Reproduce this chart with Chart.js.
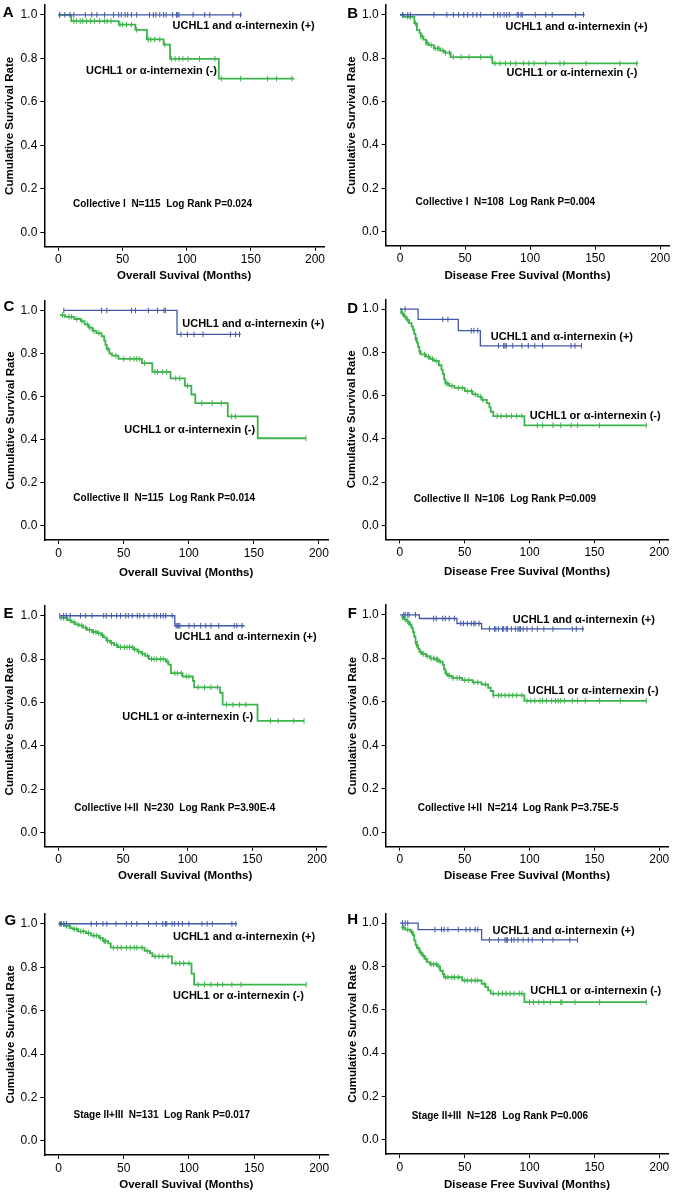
<!DOCTYPE html>
<html><head><meta charset="utf-8">
<script src="https://cdn.jsdelivr.net/npm/chart.js@4/dist/chart.umd.min.js"></script>
<style>
html,body{margin:0;padding:0;background:#fff}
body{width:675px;height:1195px;position:relative;overflow:hidden}
canvas{position:absolute}
.lt{position:absolute;font:bold 15px "Liberation Sans",Arial,sans-serif;line-height:15px;color:#000}
</style></head><body>
<script>
// ---------- shared labels ----------
const xTicks = [0, 50, 100, 150, 200];
const yTicks = [0, 0.2, 0.4, 0.6, 0.8, 1.0];
const groupLabels = ["UCHL1 and \u03b1-internexin (+)", "UCHL1 or \u03b1-internexin (-)"];
const panelLetters = ["A","B","C","D","E","F","G","H"];
const xTitles = ["Overall Suvival (Months)", "Disease Free Suvival (Months)"];
const yTitle = "Cumulative Survival Rate";
const notes = [
  "Collective I  N=115  Log Rank P=0.024",
  "Collective I  N=108  Log Rank P=0.004",
  "Collective II  N=115  Log Rank P=0.014",
  "Collective II  N=106  Log Rank P=0.009",
  "Collective I+II  N=230  Log Rank P=3.90E-4",
  "Collective I+II  N=214  Log Rank P=3.75E-5",
  "Stage II+III  N=131  Log Rank P=0.017",
  "Stage II+III  N=128  Log Rank P=0.006"
];

// ---------- data: [time, survival] steps, end of follow-up, censor times ----------
// Panel A
const A_pos_steps = [[0,1.0]];
const A_pos_end = 143;
const A_pos_cens = [1,5,9,12,21,26,30,36,43,47,49,52,54,57,61,71,74,76,79,82,84,89,92,93,94,105,114,118,136,142];
const A_neg_steps = [[0,1.0],[10,0.971],[47,0.955],[60,0.931],[69,0.887],[82,0.863],[87,0.798],[125,0.707]];
const A_neg_end = 184;
const A_neg_cens = [1,12,14,17,19,22,25,28,32,36,38,41,48,50,53,57,61,70,72,75,79,83,88,91,94,97,101,110,122,127,142,163,170,182];
// Panel B
const B_pos_steps = [[0,1.0]];
const B_pos_end = 142;
const B_pos_cens = [2,6,8,26,36,41,45,49,52,56,59,62,72,75,77,80,82,84,90,91,93,94,104,112,117,135,141];
const B_neg_steps = [[0,1.0],[3,0.99],[11,0.96],[13,0.93],[15,0.915],[16,0.90],[18,0.885],[20,0.87],[22,0.86],[26,0.845],[31,0.835],[34,0.825],[39,0.805],[71,0.776]];
const B_neg_end = 183;
const B_neg_cens = [2,6,8,12,16,17,20,21,24,27,29,30,33,35,38,41,47,53,62,70,73,77,81,85,89,95,99,103,112,123,126,143,169,182];
// Panel C
const C_pos_steps = [[4,1.0],[91,0.889]];
const C_pos_end = 140;
const C_pos_cens = [4,33,37,56,59,69,76,81,82,94,99,104,111,132,136,139];
const C_neg_steps = [[1,0.978],[5,0.97],[12,0.96],[17,0.95],[20,0.935],[23,0.92],[26,0.905],[29,0.895],[33,0.88],[35,0.86],[36,0.84],[37,0.82],[39,0.80],[41,0.79],[46,0.775],[64,0.755],[72,0.715],[86,0.685],[97,0.65],[102,0.61],[105,0.57],[130,0.508],[153,0.407]];
const C_neg_end = 190;
const C_neg_cens = [3,8,10,14,18,22,24,27,31,38,44,50,55,58,60,62,66,74,76,80,83,90,93,99,110,118,125,133,136,190];
// Panel D
const D_pos_steps = [[0,1.0],[14,0.952],[45,0.90],[62,0.83]];
const D_pos_end = 140;
const D_pos_cens = [4,33,37,55,57,60,76,80,81,82,87,94,99,104,110,132,135,140];
const D_neg_steps = [[0,1.0],[1,0.98],[3,0.965],[5,0.95],[7,0.935],[9,0.92],[10,0.905],[11,0.885],[12,0.865],[13,0.845],[14,0.825],[15,0.805],[16,0.79],[20,0.78],[23,0.77],[26,0.76],[30,0.74],[32,0.72],[33,0.70],[34,0.675],[35,0.655],[38,0.645],[42,0.635],[50,0.62],[56,0.605],[60,0.595],[63,0.58],[67,0.565],[69,0.545],[70,0.525],[72,0.505],[96,0.462]];
const D_neg_end = 190;
const D_neg_cens = [2,4,6,12,15,19,22,25,28,36,37,40,45,48,52,55,58,62,64,75,78,82,86,90,94,106,110,118,124,132,137,154,190];
// Panel E
const E_pos_steps = [[1,1.0],[90,0.954]];
const E_pos_end = 144;
const E_pos_cens = [1,4,6,9,17,21,26,35,37,41,45,48,52,54,57,61,63,66,70,74,76,79,81,83,88,91,92,93,94,101,105,110,114,118,124,136,138,142];
const E_neg_steps = [[1,0.99],[7,0.98],[10,0.97],[13,0.96],[16,0.955],[19,0.945],[22,0.935],[26,0.925],[30,0.92],[33,0.91],[35,0.9],[37,0.885],[40,0.875],[43,0.865],[46,0.855],[58,0.845],[61,0.835],[64,0.825],[67,0.815],[70,0.80],[83,0.79],[85,0.775],[87,0.735],[96,0.72],[104,0.70],[105,0.67],[125,0.645],[127,0.59],[154,0.515]];
const E_neg_end = 190;
const E_neg_cens = [2,4,6,9,12,15,18,21,24,27,29,31,34,38,41,45,48,51,53,55,57,59,62,65,69,72,74,76,79,81,84,90,92,95,99,101,108,113,118,123,130,135,140,145,164,170,182,190];
// Panel F
const F_pos_steps = [[0,1.0],[15,0.983],[44,0.96],[63,0.935]];
const F_pos_end = 142;
const F_pos_cens = [3,4,6,7,12,26,28,33,35,38,42,47,49,52,55,57,58,61,69,73,74,76,79,80,82,83,86,89,91,92,93,95,98,102,106,111,118,133,136,141];
const F_neg_steps = [[1,0.99],[3,0.98],[5,0.97],[7,0.955],[9,0.94],[10,0.92],[11,0.9],[12,0.875],[13,0.86],[14,0.845],[15,0.83],[17,0.82],[20,0.81],[23,0.80],[27,0.795],[30,0.785],[33,0.77],[34,0.75],[35,0.73],[37,0.72],[40,0.71],[48,0.70],[56,0.69],[63,0.68],[68,0.665],[70,0.65],[72,0.63],[96,0.605]];
const F_neg_end = 190;
const F_neg_cens = [2,4,6,8,12,13,16,18,21,24,26,28,29,31,36,38,41,44,46,50,53,57,60,66,72,76,78,81,84,87,90,94,98,101,104,108,110,113,117,120,122,124,127,133,137,143,154,170,190];
// Panel G
const G_pos_steps = [[0,1.0]];
const G_pos_end = 137;
const G_pos_cens = [1,2,4,6,25,29,34,37,44,52,56,60,69,75,80,82,83,87,89,92,95,100,110,114,118,133,136];
const G_neg_steps = [[0,1.0],[4,0.99],[9,0.98],[11,0.975],[15,0.965],[21,0.957],[25,0.945],[31,0.935],[34,0.92],[38,0.91],[40,0.89],[66,0.875],[70,0.865],[72,0.85],[87,0.818],[102,0.77],[104,0.72]];
const G_neg_end = 190;
const G_neg_cens = [2,6,8,12,14,17,19,23,27,29,32,35,36,42,45,48,52,55,58,60,64,68,74,77,80,84,90,93,96,100,107,112,117,122,126,133,140,190];
// Panel H
const H_pos_steps = [[0,1.0],[14,0.97],[63,0.922]];
const H_pos_end = 137;
const H_pos_cens = [2,4,6,27,32,34,37,45,51,54,58,60,69,76,81,82,83,86,88,91,95,99,102,110,118,131,137];
const H_neg_steps = [[1,0.98],[4,0.97],[8,0.96],[10,0.945],[11,0.92],[12,0.90],[13,0.885],[15,0.865],[17,0.85],[19,0.835],[21,0.82],[23,0.81],[29,0.80],[31,0.78],[33,0.765],[34,0.75],[48,0.735],[63,0.72],[66,0.705],[68,0.69],[70,0.675],[96,0.635]];
const H_neg_end = 190;
const H_neg_cens = [2,3,6,9,14,16,18,20,24,26,28,30,35,37,40,42,45,50,52,55,58,60,65,72,76,79,82,85,88,92,94,100,103,107,111,116,124,125,135,154,190];

// ---------- layout (pixel boxes of each panel, label anchors in data units) ----------
const panels = [
  {pos:[A_pos_steps,A_pos_end,A_pos_cens], neg:[A_neg_steps,A_neg_end,A_neg_cens], xt:0,
   box:{cx:0,cy:0,cw:337,ch:290,L:44.3,T:5,R:324,B:246.7}, ytp:2.6, xtp:7,
   lab:[[89,0.947],[21.5,0.741],[11.4,0.131]], letter:[2.8,4]},
  {pos:[B_pos_steps,B_pos_end,B_pos_cens], neg:[B_neg_steps,B_neg_end,B_neg_cens], xt:1,
   box:{cx:337,cy:0,cw:338,ch:290,L:385.7,T:5,R:669.3,B:245.7}, ytp:8.3, xtp:7,
   lab:[[81.1,0.944],[81.9,0.733],[12,0.134]], letter:[347.2,4.7]},
  {pos:[C_pos_steps,C_pos_end,C_pos_cens], neg:[C_neg_steps,C_neg_end,C_neg_cens], xt:0,
   box:{cx:0,cy:290,cw:337,ch:300,L:44.3,T:300.7,R:328,B:540}, ytp:3.6, xtp:10.5,
   lab:[[95,0.937],[50.5,0.447],[11.3,0.127]], letter:[3.5,298]},
  {pos:[D_pos_steps,D_pos_end,D_pos_cens], neg:[D_neg_steps,D_neg_end,D_neg_cens], xt:1,
   box:{cx:337,cy:290,cw:338,ch:300,L:385.7,T:299.3,R:668.3,B:539.3}, ytp:8.3, xtp:11,
   lab:[[70.1,0.872],[100.2,0.505],[10.6,0.12]], letter:[347.2,299.7]},
  {pos:[E_pos_steps,E_pos_end,E_pos_cens], neg:[E_neg_steps,E_neg_end,E_neg_cens], xt:0,
   box:{cx:0,cy:590,cw:337,ch:300,L:44.3,T:606,R:326,B:846.7}, ytp:2.6, xtp:7,
   lab:[[89.8,0.901],[49.4,0.534],[12.2,0.113]], letter:[3.5,605.3]},
  {pos:[F_pos_steps,F_pos_end,F_pos_cens], neg:[F_neg_steps,F_neg_end,F_neg_cens], xt:1,
   box:{cx:337,cy:590,cw:338,ch:300,L:385.7,T:605,R:668.3,B:846.7}, ytp:8.8, xtp:7.5,
   lab:[[87,0.977],[98.6,0.652],[13.7,0.111]], letter:[347.8,605.3]},
  {pos:[G_pos_steps,G_pos_end,G_pos_cens], neg:[G_neg_steps,G_neg_end,G_neg_cens], xt:0,
   box:{cx:0,cy:890,cw:337,ch:305,L:44.3,T:914,R:328.3,B:1155}, ytp:3.6, xtp:3,
   lab:[[87.8,0.94],[87.8,0.666],[11.4,0.12]], letter:[4.5,912]},
  {pos:[H_pos_steps,H_pos_end,H_pos_cens], neg:[H_neg_steps,H_neg_end,H_neg_cens], xt:1,
   box:{cx:337,cy:890,cw:338,ch:305,L:385.7,T:913.3,R:668.3,B:1154}, ytp:8.8, xtp:3,
   lab:[[71.4,0.965],[100.6,0.685],[9,0.108]], letter:[347.2,911.3]}
];

const X_MIN = -11, X_MAX = 207, Y_MIN = -0.065, Y_MAX = 1.045;
const BLUE = '#4157a8', GREEN = '#3db44b';
const FONT = '"Liberation Sans", Arial, sans-serif';

function survAt(steps, t){ let s = steps[0][1]; for (const [ti, si] of steps){ if (ti <= t) s = si; } return s; }
function curve(steps, end){ const pts = steps.map(([x,y]) => ({x, y})); pts.push({x:end, y:steps[steps.length-1][1]}); return pts; }
function cens(steps, times){ return times.map(t => ({x:t, y:survAt(steps, t)})); }

const textPlugin = {
  id:'kmText',
  afterDatasetsDraw(chart, args, opts){
    const ctx = chart.ctx, xs = chart.scales.x, ys = chart.scales.y;
    ctx.save(); ctx.fillStyle = '#000'; ctx.textBaseline = 'middle'; ctx.textAlign = 'left';
    for (const it of opts.items){ ctx.font = it.font; ctx.fillText(it.text, xs.getPixelForValue(it.x), ys.getPixelForValue(it.y)); }
    ctx.restore();
  }
};

panels.forEach((p, i) => {
  const b = p.box;
  const cv = document.createElement('canvas');
  cv.width = b.cw; cv.height = b.ch;
  cv.style.left = b.cx + 'px'; cv.style.top = b.cy + 'px';
  cv.style.width = b.cw + 'px'; cv.style.height = b.ch + 'px';
  document.body.appendChild(cv);
  const lt = document.createElement('div');
  lt.className = 'lt'; lt.textContent = panelLetters[i];
  lt.style.left = p.letter[0] + 'px'; lt.style.top = p.letter[1] + 'px';
  document.body.appendChild(lt);

  const lineDs = (pts, col, w) => ({data:pts, borderColor:col, borderWidth:w, stepped:true, pointRadius:0, fill:false, tension:0});
  const censDs = (pts, col) => ({data:pts, showLine:false, pointStyle:'line', rotation:90, pointRadius:2.8, pointBorderWidth:1, pointBorderColor:col, pointBackgroundColor:col});
  const [ps, pe, pc] = p.pos, [ns, ne, nc] = p.neg;

  new Chart(cv, {
    type:'line',
    data:{datasets:[
      lineDs(curve(ps, pe), BLUE, 1.3),
      censDs(cens(ps, pc), BLUE),
      lineDs(curve(ns, ne), GREEN, 1.8),
      censDs(cens(ns, nc), GREEN)
    ]},
    options:{
      responsive:false, animation:false, events:[], devicePixelRatio:1,
      layout:{padding:{left:0, top:b.T - b.cy, right:b.cx + b.cw - b.R, bottom:0}},
      plugins:{legend:{display:false}, tooltip:{enabled:false},
        kmText:{items:[
          {text:groupLabels[0], x:p.lab[0][0], y:p.lab[0][1], font:'bold 11px ' + FONT},
          {text:groupLabels[1], x:p.lab[1][0], y:p.lab[1][1], font:'bold 11px ' + FONT},
          {text:notes[i], x:p.lab[2][0], y:p.lab[2][1], font:'bold 10px ' + FONT}
        ]}},
      scales:{
        x:{type:'linear', min:X_MIN, max:X_MAX,
           afterBuildTicks: s => { s.ticks = xTicks.map(v => ({value:v})); },
           afterFit: s => { s.height = b.cy + b.ch - b.B; s.paddingLeft = 0; s.paddingRight = 0; },
           ticks:{autoSkip:false, maxRotation:0, color:'#000', padding:2, font:{family:FONT, size:12}, callback:v => String(v)},
           grid:{display:true, drawOnChartArea:false, drawTicks:true, tickLength:4, color:'#000', lineWidth:1},
           border:{display:true, color:'#000', width:1.5},
           title:{display:true, text:xTitles[p.xt], color:'#000', font:{family:FONT, size:11.5, weight:'bold'}, padding:{top:0, bottom:p.xtp}}},
        y:{type:'linear', min:Y_MIN, max:Y_MAX,
           afterBuildTicks: s => { s.ticks = yTicks.map(v => ({value:v})); },
           afterFit: s => { s.width = b.L - b.cx; s.paddingTop = 0; s.paddingBottom = 0; },
           ticks:{autoSkip:false, color:'#000', padding:3, font:{family:FONT, size:12}, callback:v => Number(v).toFixed(1)},
           grid:{display:true, drawOnChartArea:false, drawTicks:true, tickLength:4, color:'#000', lineWidth:1},
           border:{display:true, color:'#000', width:1.5},
           title:{display:true, text:yTitle, color:'#000', font:{family:FONT, size:11.5, weight:'bold'}, padding:{top:p.ytp, bottom:0}}}
      }
    },
    plugins:[textPlugin]
  });
});
</script>
</body></html>
